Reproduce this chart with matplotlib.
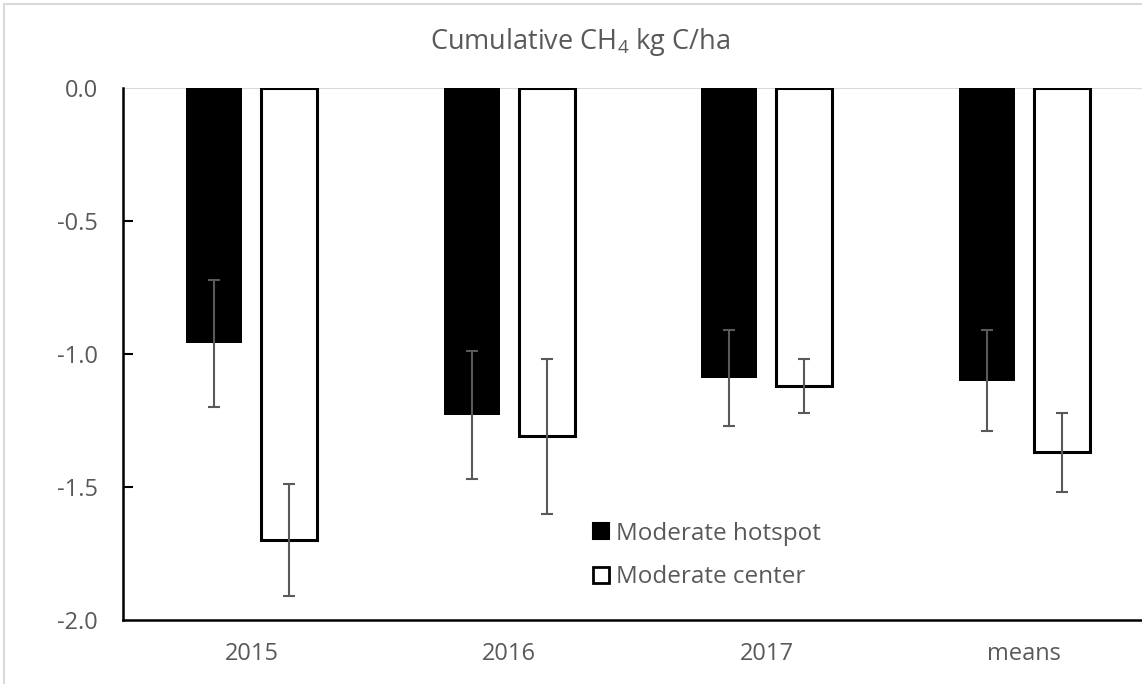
import matplotlib.pyplot as plt
from matplotlib.patches import Rectangle, Patch
import numpy as np

plt.rcParams['font.family'] = ['Open Sans', 'DejaVu Sans']

categories = ['2015', '2016', '2017', 'means']
hotspot = [-0.96, -1.23, -1.09, -1.10]
hotspot_err = [0.24, 0.24, 0.18, 0.19]
center = [-1.70, -1.31, -1.12, -1.37]
center_err = [0.21, 0.29, 0.10, 0.15]
yticks = [0.0, -0.5, -1.0, -1.5, -2.0]

grey = '#595959'

fig = plt.figure(figsize=(11.42, 6.84), dpi=100)
# chart area border, like an Excel chart frame
fig.patches.append(Rectangle((4 / 1142, -0.1), 1.2, 0.1 + 680 / 684, transform=fig.transFigure,
                             fill=False, edgecolor='#d9d9d9', linewidth=1.5))

ax = fig.add_axes([123 / 1142, 64 / 684, 1030 / 1142, 532 / 684])

x = np.arange(len(categories))
w = 0.218
off = 0.145
ax.axhline(0, color='#d9d9d9', linewidth=1.5, zorder=0)
ax.bar(x - off, hotspot, w, color='black', zorder=2)
ax.bar(x + off, center, w, color='white', edgecolor='black', linewidth=2.2, zorder=2)
ax.errorbar(x - off, hotspot, yerr=hotspot_err, fmt='none', ecolor=grey,
            elinewidth=1.5, capsize=4, capthick=1.5, zorder=3)
ax.errorbar(x + off, center, yerr=center_err, fmt='none', ecolor=grey,
            elinewidth=1.5, capsize=4, capthick=1.5, zorder=3)

ax.set_xlim(-0.5, len(categories) - 0.5)
ax.set_ylim(-2.0, 0.0)
ax.set_xticks(x)
ax.set_xticklabels(categories)
ax.set_yticks(yticks)
ax.set_yticklabels([f'{v:.1f}' for v in yticks])
ax.tick_params(axis='x', length=0, pad=16, labelsize=17, labelcolor=grey)
ax.tick_params(axis='y', direction='in', length=7, width=1.5, pad=18, labelsize=17, labelcolor=grey)
ticks = ax.yaxis.get_major_ticks()
ticks[0].tick1line.set_visible(False)
ticks[-1].tick1line.set_visible(False)

for s in ['top', 'right']:
    ax.spines[s].set_visible(False)
ax.spines['left'].set_linewidth(1.8)
ax.spines['bottom'].set_linewidth(1.8)

fig.text(580 / 1142, 1 - 42 / 684, 'Cumulative CH$_\\mathregular{4}$ kg C/ha', ha='center', va='center',
         fontsize=19.5, color=grey)

handles = [Patch(facecolor='black', edgecolor='black', linewidth=1.5),
           Patch(facecolor='white', edgecolor='black', linewidth=2.0)]
ax.legend(handles, ['Moderate hotspot', 'Moderate center'], loc='upper left',
          bbox_to_anchor=(448 / 1030, 1 - 412 / 532), frameon=False, fontsize=17.5,
          labelcolor=grey, handlelength=0.65, handleheight=0.65, handletextpad=0.3,
          labelspacing=0.8)

fig.savefig('out.png', dpi=100)
